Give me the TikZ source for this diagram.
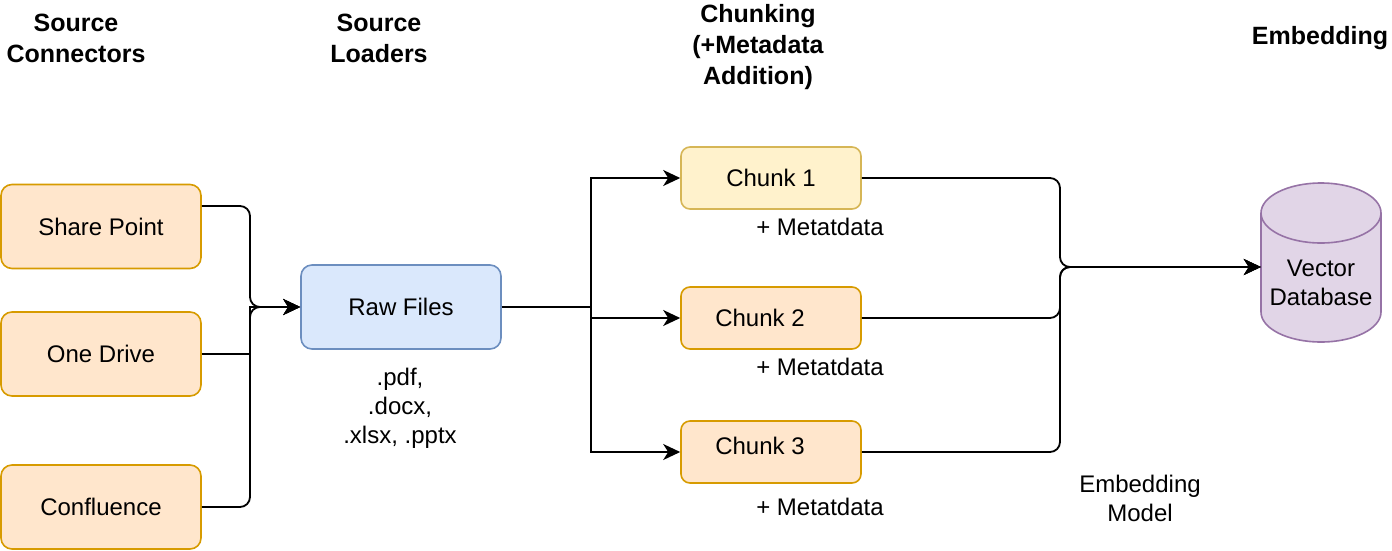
\documentclass[tikz,border=0pt]{standalone}
\usepackage{fontspec}
\setmainfont{Liberation Sans}
\usetikzlibrary{arrows.meta}
\definecolor{orF}{HTML}{FFE6CC}
\definecolor{orD}{HTML}{D79B00}
\definecolor{yeF}{HTML}{FFF2CC}
\definecolor{yeD}{HTML}{D6B656}
\definecolor{blF}{HTML}{DAE8FC}
\definecolor{blD}{HTML}{6C8EBF}
\definecolor{puF}{HTML}{E1D5E7}
\definecolor{puD}{HTML}{9673A6}
\tikzset{
  box/.style={rectangle, rounded corners=11pt, line width=1.6pt, inner sep=0pt,
    font=\fontsize{24}{29}\selectfont},
  srcbox/.style={box, fill=orF, draw=orD, minimum width=200pt, minimum height=84pt},
  chunkbox/.style={box, fill=orF, draw=orD, minimum width=180pt, minimum height=62pt, rounded corners=9pt},
  txt/.style={align=center, inner sep=0pt, font=\fontsize{24}{29}\selectfont},
  head/.style={align=center, inner sep=0pt, font=\bfseries\fontsize{25}{31}\selectfont},
  conn/.style={line width=1.8pt, -{Stealth[length=17pt,width=16pt,inset=5pt]}},
  plain/.style={line width=1.8pt}
}
\begin{document}
\begin{tikzpicture}[x=1pt,y=-1pt]
\useasboundingbox (0,0) rectangle (1392,550);

% headings
\node[head] (h1) at (76,38) {Source\\Connectors};
\node[head] (h2) at (379,38) {Source\\Loaders};
\node[head] (h3) at (758,47) {Chunking\\(+Metadata\\Addition)};
\node[head] (h4) at (1320,38) {Embedding};

% source boxes
\node[srcbox] (sp) at (101,226.5) {Share Point};
\node[srcbox] (od) at (101,354) {One Drive};
\node[srcbox] (cf) at (101,507) {Confluence};

% raw files
\node[box, fill=blF, draw=blD, minimum width=200pt, minimum height=84pt] (raw) at (401,307) {Raw Files};
\node[txt] (ext) at (400,408) {.pdf,\\.docx,\\.xlsx, .pptx};

% chunks
\node[chunkbox, fill=yeF, draw=yeD] (c1) at (771,178) {Chunk 1};
\node[chunkbox] (c2) at (771,318) {Chunk 2\hspace*{22pt}};
\node[chunkbox] (c3) at (771,452) {\rule[-12pt]{0pt}{0pt}Chunk 3\hspace*{22pt}};
\node[txt] (m1) at (820,227) {+ Metatdata};
\node[txt] (m2) at (820,367) {+ Metatdata};
\node[txt] (m3) at (820,507) {+ Metatdata};

% vector database (cylinder)
\fill[puF] (1261,213) -- (1261,312) arc (180:360:60pt and 30pt) -- (1381,213) arc (0:180:60pt and 30pt) -- cycle;
\draw[puD, line width=1.6pt] (1261,213) -- (1261,312) arc (180:360:60pt and 30pt) -- (1381,213) arc (0:180:60pt and 30pt) -- cycle;
\draw[puD, line width=1.6pt] (1261,213) arc (180:360:60pt and 30pt);
\node[txt, minimum width=120pt] (db) at (1321,283) {Vector\\Database};

\node[txt] (em) at (1140,498) {Embedding\\Model};

% connectors: sources -> raw files
\coordinate (jl) at (250,307);
\draw[conn, rounded corners=10pt] ([yshift=20.5pt]sp.east) -| (jl) -- (raw.west);
\draw[conn, rounded corners=10pt] (cf.east) -| (jl) -- (raw.west);
\draw[conn] (od.east) -- (od.east -| jl) -- (jl) -- (raw.west);

% raw files -> chunks
\coordinate (sm) at (591,307);
\draw[conn] (raw.east) -- (sm) |- (c1.west);
\draw[conn] (raw.east) -- (sm) |- (c2.west);
\draw[conn] (raw.east) -- (sm) |- (c3.west);

% chunks -> database
\coordinate (jr) at (1060,267);
\draw[conn, rounded corners=10pt] (c1.east) -| (jr) -- (jr -| db.west);
\draw[conn, rounded corners=10pt] (c2.east) -| (jr) -- (jr -| db.west);
\draw[conn, rounded corners=10pt] (c3.east) -| (jr) -- (jr -| db.west);
\end{tikzpicture}
\end{document}
